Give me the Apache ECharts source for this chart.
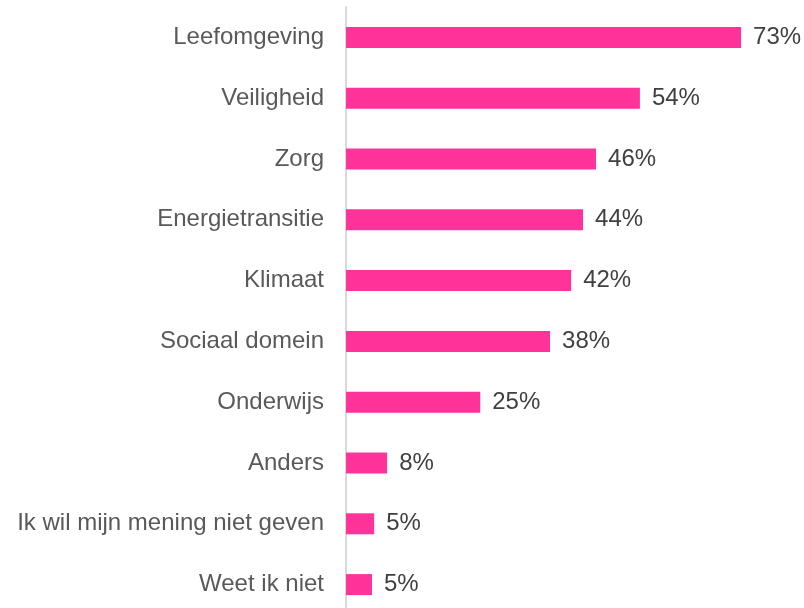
<!DOCTYPE html>
<html>
<head>
<meta charset="utf-8">
<script src="https://cdn.jsdelivr.net/npm/echarts@6/dist/echarts.min.js"></script>
<style>html,body{margin:0;padding:0;background:#fff}#c{width:804px;height:608px}</style>
</head>
<body>
<div id="c"></div>
<script>
const categories = ["Leefomgeving","Veiligheid","Zorg","Energietransitie","Klimaat","Sociaal domein","Onderwijs","Anders","Ik wil mijn mening niet geven","Weet ik niet"];
const values = [73, 54.3, 46.2, 43.8, 41.6, 37.7, 24.8, 7.6, 5.2, 4.8];

const chart = echarts.init(document.getElementById('c'));
chart.setOption({
  animation: false,
  grid: { left: 346, width: 433, top: 7, height: 608, containLabel: false, outerBoundsMode: 'none' },
  xAxis: { type: 'value', min: 0, max: 80, show: false },
  yAxis: {
    type: 'category', data: categories, inverse: true,
    axisLine: { show: true, lineStyle: { color: '#d9d9d9', width: 2 } },
    axisTick: { show: false },
    axisLabel: { color: '#595959', fontFamily: 'Liberation Sans, Arial, sans-serif', fontSize: 24, margin: 22 }
  },
  series: [{
    type: 'bar', data: values, barWidth: 21,
    itemStyle: { color: '#ff3399' },
    label: { show: true, position: 'right', distance: 12, color: '#404040',
      fontFamily: 'Liberation Sans, Arial, sans-serif', fontSize: 24,
      formatter: p => Math.round(p.value) + '%' }
  }]
});
</script>
</body>
</html>
